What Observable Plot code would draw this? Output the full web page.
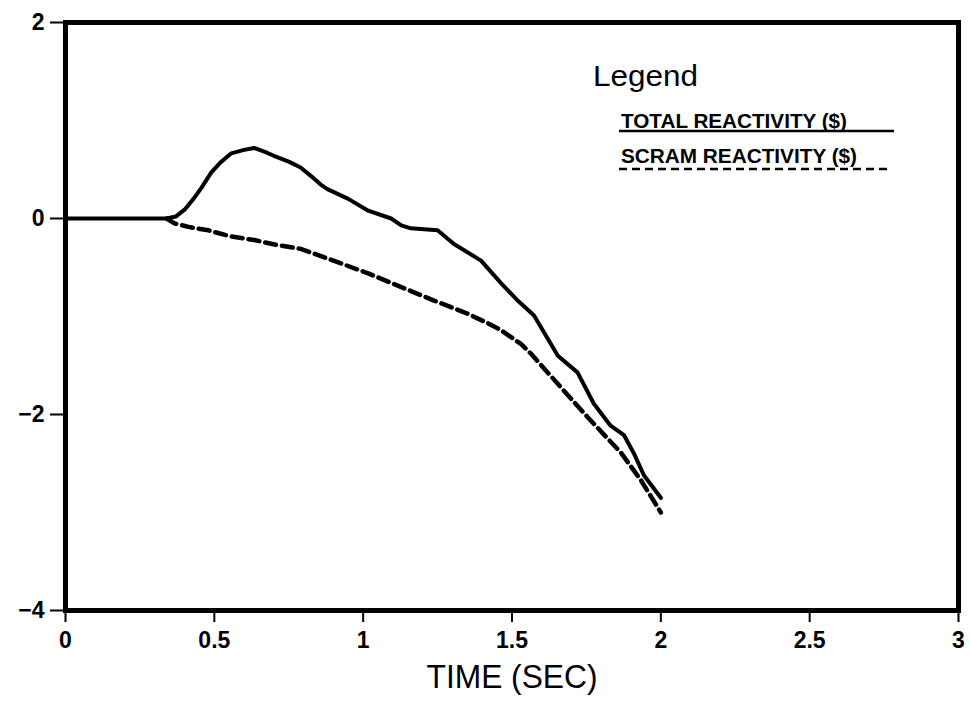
<!DOCTYPE html>
<html>
<head>
<meta charset="utf-8">
<script src="https://cdn.jsdelivr.net/npm/d3@7"></script>
<script src="https://cdn.jsdelivr.net/npm/@observablehq/plot@0.6"></script>
<style>
  html, body { margin: 0; padding: 0; background: #fff; }
  #chart { width: 970px; height: 705px; }
</style>
</head>
<body>
<div id="chart"></div>
<script>
// ---- Data ----
const totalTime  = [0, 0.34, 0.37, 0.40, 0.43, 0.456, 0.49, 0.52, 0.557, 0.60, 0.634, 0.67, 0.70, 0.75, 0.79, 0.83, 0.86, 0.88, 0.95, 1.017, 1.094, 1.128, 1.16, 1.25, 1.305, 1.396, 1.463, 1.52, 1.574, 1.654, 1.72, 1.775, 1.83, 1.876, 1.91, 1.943, 2.0];
const totalValue = [0, 0, 0.02, 0.09, 0.20, 0.31, 0.47, 0.57, 0.665, 0.70, 0.72, 0.68, 0.64, 0.58, 0.52, 0.42, 0.34, 0.30, 0.20, 0.08, 0.0, -0.07, -0.10, -0.12, -0.26, -0.43, -0.66, -0.84, -0.99, -1.40, -1.57, -1.89, -2.11, -2.21, -2.40, -2.62, -2.85];

const scramTime  = [0.34, 0.366, 0.42, 0.48, 0.55, 0.634, 0.71, 0.79, 0.90, 1.017, 1.128, 1.24, 1.35, 1.42, 1.463, 1.53, 1.564, 1.675, 1.755, 1.866, 1.933, 2.0];
const scramValue = [0, -0.05, -0.09, -0.12, -0.18, -0.22, -0.27, -0.31, -0.43, -0.56, -0.70, -0.84, -0.97, -1.07, -1.14, -1.28, -1.38, -1.76, -2.03, -2.39, -2.67, -3.0];

const xTicks = [0, 0.5, 1, 1.5, 2, 2.5, 3];
const yTicks = [-4, -2, 0, 2];
const xLabel = "TIME (SEC)";
const legendTitle = "Legend";
const legendLabels = ["TOTAL REACTIVITY ($)", "SCRAM REACTIVITY ($)"];

// ---- Build tables ----
const total = totalTime.map((t, i) => ({t, v: totalValue[i]}));
const scram = scramTime.map((t, i) => ({t, v: scramValue[i]}));

const font = "'Liberation Sans', Arial, sans-serif";
const fmt = d => d < 0 ? "\u2212" + Math.abs(d) : String(d);

const chart = Plot.plot({
  width: 970,
  height: 705,
  marginLeft: 65,
  marginRight: 12,
  marginTop: 22,
  marginBottom: 95,
  style: { fontFamily: font, background: "#fff", color: "#000", overflow: "visible" },
  x: { domain: [0, 3] },
  y: { domain: [-4, 2] },
  marks: [
    Plot.axisX({ ticks: xTicks, tickFormat: fmt, tickSize: 12, tickPadding: 9,
                 fontSize: 23, fontWeight: "bold", strokeWidth: 2, label: null }),
    Plot.axisY({ ticks: yTicks, tickFormat: fmt, tickSize: 15, tickPadding: 6,
                 fontSize: 23, fontWeight: "bold", strokeWidth: 2, label: null }),
    Plot.line(total, { x: "t", y: "v", stroke: "#000", strokeWidth: 4 }),
    Plot.line(scram, { x: "t", y: "v", stroke: "#000", strokeWidth: 4.5, strokeDasharray: "11,6" }),
    Plot.frame({ stroke: "#000", strokeWidth: 5 }),
    Plot.text([xLabel], { frameAnchor: "bottom", dy: 77, fontSize: 33, fill: "#000" })
  ]
});

// Condense the axis title to match the narrow lettering
d3.select(chart).selectAll("text")
  .filter(function() { return this.textContent === xLabel; })
  .attr("textLength", 171).attr("lengthAdjust", "spacingAndGlyphs");

// ---- Legend (inside the plot, top-right) ----
const svg = d3.select(chart);
const lg = svg.append("g").attr("font-family", font).attr("fill", "#000").attr("text-anchor", "start");
lg.append("text").attr("x", 593).attr("y", 86).attr("font-size", 30)
  .attr("textLength", 105).attr("lengthAdjust", "spacingAndGlyphs").text(legendTitle);
const rows = [
  { label: legendLabels[0], y: 128, lineY: 131, x2: 894, dash: null, len: 226 },
  { label: legendLabels[1], y: 163, lineY: 169, x2: 889, dash: "8,5", len: 236 }
];
rows.forEach(r => {
  lg.append("text").attr("x", 621).attr("y", r.y).attr("font-size", 20).attr("font-weight", "bold")
    .attr("text-anchor", "start")
    .attr("textLength", r.len).attr("lengthAdjust", "spacingAndGlyphs").text(r.label);
  const ln = lg.append("line").attr("x1", 619).attr("x2", r.x2).attr("y1", r.lineY).attr("y2", r.lineY)
    .attr("stroke", "#000").attr("stroke-width", 2.7);
  if (r.dash) ln.attr("stroke-dasharray", r.dash);
});

document.getElementById("chart").appendChild(chart);
</script>
</body>
</html>
